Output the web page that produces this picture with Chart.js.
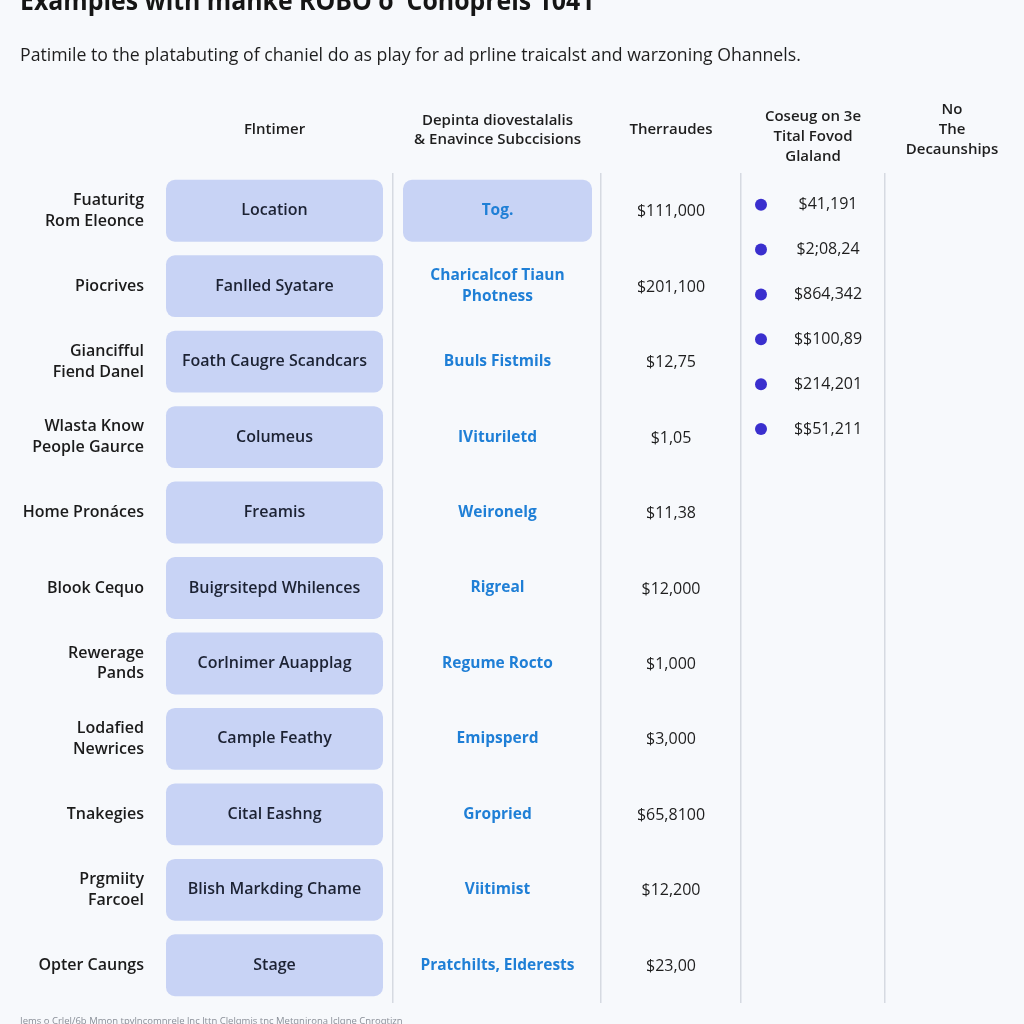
<!DOCTYPE html>
<html>
<head>
<meta charset="utf-8">
<script src="https://cdn.jsdelivr.net/npm/chart.js@4/dist/chart.umd.min.js"></script>
<style>
  html, body { margin: 0; padding: 0; background: #f7f9fc; }
  canvas { display: block; }
</style>
</head>
<body>
<canvas id="c" width="1024" height="1024"></canvas>
<script>
// ---------- data ----------
const titleText = "Examples with manke ROBO o' Conopreis 1041";
const subtitleText = "Patimile to the platabuting of chaniel do as play for ad prline traicalst and warzoning Ohannels.";
const footerText = "Iems o Crlel/6b Mmon tpvlncomnrele lnc lttn Clelqmis tnc Metqnirona lclqne Cnroqtizn";

const headerCol1 = ["Flntimer"];
const headerCol2 = ["Depinta diovestalalis", "& Enavince Subccisions"];
const headerCol3 = ["Therraudes"];
const headerCol4 = ["Coseug on 3e", "Tital Fovod", "Glaland"];
const headerCol5 = ["No", "The", "Decaunships"];

const rowLabels = [
  ["Fuaturitg", "Rom Eleonce"],
  "Piocrives",
  ["Giancifful", "Fiend Danel"],
  ["Wlasta Know", "People Gaurce"],
  "Home Pronáces",
  "Blook Cequo",
  ["Rewerage", "Pands"],
  ["Lodafied", "Newrices"],
  "Tnakegies",
  ["Prgmiity", "Farcoel"],
  "Opter Caungs"
];

const col1Texts = [
  "Location", "Fanlled Syatare", "Foath Caugre Scandcars", "Columeus", "Freamis",
  "Buigrsitepd Whilences", "Corlnimer Auapplag", "Cample Feathy", "Cital Eashng",
  "Blish Markding Chame", "Stage"
];
const col2Texts = [
  "Tog.", ["Charicalcof Tiaun", "Photness"], "Buuls Fistmils", "IVituriletd", "Weironelg",
  "Rigreal", "Regume Rocto", "Emipsperd", "Gropried", "Viitimist", "Pratchilts, Elderests"
];
const col3Values = [
  "$111,000", "$201,100", "$12,75", "$1,05", "$11,38", "$12,000",
  "$1,000", "$3,000", "$65,8100", "$12,200", "$23,00"
];
const col4List = ["$41,191", "$2;08,24", "$864,342", "$$100,89", "$214,201", "$$51,211"];

// which rows have a highlighted box in each column (1 = box)
const col1Boxed = [1,1,1,1,1,1,1,1,1,1,1];
const col2Boxed = [1,0,0,0,0,0,0,0,0,0,0];

// ---------- table layout (column geometry in table units) ----------
const tableLeft = 156, tableRight = 1024;
const col1Span = [166, 383];
const col2Span = [403, 592];
const col3Center = 671;
const col4DotX = 761, col4TextX = 828, col4HeadX = 813;
const col5Center = 952;
const dividers = [393, 601, 741, 885];

const boxColor = '#c8d3f5';
const dotColor = '#3a2fce';
const bg = '#f7f9fc';

const col1Data = col1Boxed.map(b => b ? col1Span.slice() : null);
const col2Data = col2Boxed.map(b => b ? col2Span.slice() : null);
const listData = col4List.map((_, i) => ({ x: col4DotX, y: i + 1 }));

const FONT = "'Open Sans', 'Noto Sans', sans-serif";

const textPlugin = {
  id: 'tableText',
  beforeDraw(chart) {
    const c = chart.ctx;
    c.save();
    c.fillStyle = bg;
    c.fillRect(0, 0, chart.width, chart.height);
    c.restore();
  },
  afterDatasetsDraw(chart) {
    const c = chart.ctx;
    const xs = chart.scales.x, ys = chart.scales.y, yl = chart.scales.yList;
    const cx1 = xs.getPixelForValue((col1Span[0] + col1Span[1]) / 2);
    const cx2 = xs.getPixelForValue((col2Span[0] + col2Span[1]) / 2);
    const cx3 = xs.getPixelForValue(col3Center);
    const cx4 = xs.getPixelForValue(col4TextX);
    const cx5 = xs.getPixelForValue(col5Center);
    c.save();

    // title (cropped at top like reference)
    c.save();
    c.textAlign = 'left';
    c.textBaseline = 'alphabetic';
    c.fillStyle = '#151515';
    c.font = `700 27px ${FONT}`;
    c.translate(20, 10);
    c.scale(0.92, 1);
    c.fillText(titleText, 0, 0);
    c.restore();

    c.textAlign = 'left';
    c.textBaseline = 'middle';
    c.font = `400 17.7px ${FONT}`;
    c.fillStyle = '#1e1e1e';
    c.fillText(subtitleText, 20, 56);

    // headers
    c.textAlign = 'center';
    c.fillStyle = '#1e1e1e';
    c.font = `600 15px ${FONT}`;
    const drawLines = (lines, x, yc, lh) => {
      const n = lines.length;
      lines.forEach((t, k) => c.fillText(t, x, yc + (k - (n - 1) / 2) * lh));
    };
    drawLines(headerCol1, cx1, 130, 20);
    drawLines(headerCol2, cx2, 130.5, 19);
    drawLines(headerCol3, cx3, 130, 20);
    drawLines(headerCol4, xs.getPixelForValue(col4HeadX), 137, 20);
    drawLines(headerCol5, cx5, 130, 20);

    // column 1 texts
    c.font = `600 16px ${FONT}`;
    c.fillStyle = '#1c2233';
    col1Texts.forEach((t, i) => c.fillText(t, cx1, ys.getPixelForValue(i)));

    // column 2 texts
    c.font = `700 15.5px ${FONT}`;
    c.fillStyle = '#1f7fd6';
    col2Texts.forEach((t, i) => {
      const lines = Array.isArray(t) ? t : [t];
      drawLines(lines, cx2, ys.getPixelForValue(i), 21);
    });

    // column 3 values
    c.font = `500 16px ${FONT}`;
    c.fillStyle = '#1e1e1e';
    col3Values.forEach((t, i) => c.fillText(t, cx3, ys.getPixelForValue(i) + 1));

    // column 4 list
    c.font = `500 16px ${FONT}`;
    col4List.forEach((t, i) => c.fillText(t, cx4, yl.getPixelForValue(i + 1)));

    // footer
    c.textAlign = 'left';
    c.font = `400 9.5px ${FONT}`;
    c.fillStyle = '#8a8f98';
    c.fillText(footerText, 20, 1021);
    c.restore();
  }
};

new Chart(document.getElementById('c'), {
  type: 'bar',
  data: {
    labels: rowLabels,
    datasets: [
      {
        label: headerCol1.join(' '),
        data: col1Data,
        indexAxis: 'y',
        backgroundColor: boxColor,
        borderRadius: 9,
        borderSkipped: false,
        barPercentage: 0.82,
        categoryPercentage: 1,
        grouped: false,
        xAxisID: 'x',
        yAxisID: 'y'
      },
      {
        label: headerCol2.join(' '),
        data: col2Data,
        indexAxis: 'y',
        backgroundColor: boxColor,
        borderRadius: 9,
        borderSkipped: false,
        barPercentage: 0.82,
        categoryPercentage: 1,
        grouped: false,
        xAxisID: 'x',
        yAxisID: 'y'
      },
      {
        type: 'scatter',
        label: headerCol4.join(' '),
        data: listData,
        xAxisID: 'x',
        yAxisID: 'yList',
        pointRadius: 6,
        pointHoverRadius: 6,
        backgroundColor: dotColor,
        borderColor: dotColor,
        borderWidth: 0
      }
    ]
  },
  options: {
    responsive: false,
    animation: false,
    events: [],
    layout: { autoPadding: false, padding: { top: 173, bottom: 21, left: 0, right: 0 } },
    plugins: { legend: { display: false }, tooltip: { enabled: false }, title: { display: false } },
    scales: {
      x: {
        type: 'linear',
        position: 'bottom',
        offset: false,
        min: tableLeft,
        max: tableRight,
        ticks: { display: false },
        border: { display: false },
        grid: { color: '#d6dae1', lineWidth: 1.5, drawTicks: false, offset: false },
        afterBuildTicks: s => { s.ticks = dividers.map(v => ({ value: v })); },
        afterFit: s => { s.height = 0; s.paddingLeft = 0; s.paddingRight = 0; }
      },
      y: {
        type: 'category',
        position: 'left',
        offset: true,
        grid: { display: false, drawTicks: false, offset: true },
        border: { display: false },
        ticks: {
          padding: 12,
          color: '#1b1b1b',
          font: { family: FONT, size: 16, weight: '600', lineHeight: 1.3 },
          autoSkip: false
        },
        afterFit: s => { s.width = tableLeft; s.paddingTop = 0; s.paddingBottom = 0; }
      },
      yList: {
        type: 'linear',
        display: false,
        offset: false,
        reverse: true,
        min: 0.292,
        max: 18.8
      }
    }
  },
  plugins: [textPlugin]
});
</script>
</body>
</html>
